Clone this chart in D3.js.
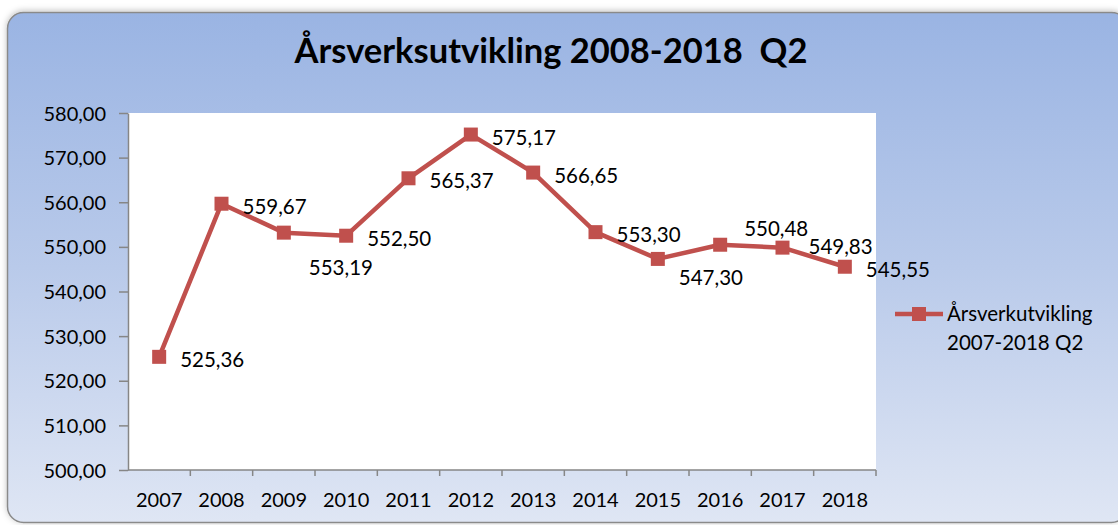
<!DOCTYPE html>
<html>
<head>
<meta charset="utf-8">
<script src="https://cdn.jsdelivr.net/npm/d3@7"></script>
<style>
  body { margin: 0; background: #fff; }
  svg { display: block; }
  text { font-family: Lato, "Open Sans", sans-serif; fill: #000; }
</style>
</head>
<body>
<script>
const years = ['2007', '2008', '2009', '2010', '2011', '2012', '2013', '2014', '2015', '2016', '2017', '2018'];
const values = [525.36, 559.67, 553.19, 552.50, 565.37, 575.17, 566.65, 553.30, 547.30, 550.48, 549.83, 545.55];
const yTicks = [500, 510, 520, 530, 540, 550, 560, 570, 580];
const chartTitle = 'Årsverksutvikling 2008-2018  Q2';
const legendLines = ['Årsverkutvikling', '2007-2018 Q2'];

// a few labels were nudged by hand in the original so they don't collide
const labelNudge = { '2009': [4, 32], '2015': [0, 16], '2016': [3, -19], '2017': [5, -4] };

const W = 1118, H = 525;
const margin = { top: 113, right: 242, bottom: 55, left: 128 };
const red = '#c0504d';

const nb = d3.formatLocale({ decimal: ',', thousands: ' ', grouping: [3], currency: ['', ' kr'] });
const fmt = nb.format('.2f');

const svg = d3.select('body').append('svg')
  .attr('width', W)
  .attr('height', H);

const defs = svg.append('defs');
const grad = defs.append('linearGradient')
  .attr('id', 'bg')
  .attr('x1', 0).attr('y1', 0).attr('x2', 0).attr('y2', 1);
grad.append('stop').attr('offset', '0%').attr('stop-color', '#9ab4e3');
grad.append('stop').attr('offset', '50%').attr('stop-color', '#b9caea');
grad.append('stop').attr('offset', '100%').attr('stop-color', '#dfe6f4');

const shadow = defs.append('filter').attr('id', 'shadow')
  .attr('x', '-5%').attr('y', '-5%').attr('width', '110%').attr('height', '110%');
shadow.append('feDropShadow')
  .attr('dx', 0).attr('dy', -1).attr('stdDeviation', 3)
  .attr('flood-color', '#000').attr('flood-opacity', 0.25);

// chart frame
svg.append('rect')
  .attr('x', 7.5).attr('y', 12.5)
  .attr('width', 1120).attr('height', 510)
  .attr('rx', 16)
  .attr('fill', 'url(#bg)')
  .attr('stroke', '#8a8a8a')
  .attr('stroke-width', 1.5)
  .attr('filter', 'url(#shadow)');

const x = d3.scaleBand()
  .domain(years)
  .range([margin.left, W - margin.right]);

const y = d3.scaleLinear()
  .domain([500, 580])
  .range([H - margin.bottom, margin.top]);

// plot area
svg.append('rect')
  .attr('x', margin.left)
  .attr('y', margin.top)
  .attr('width', x.range()[1] - margin.left)
  .attr('height', y(500) - margin.top)
  .attr('fill', '#fff');

// title
svg.append('text')
  .attr('x', 551)
  .attr('y', 63)
  .attr('text-anchor', 'middle')
  .style('font-size', '34.5px')
  .style('font-weight', 'bold')
  .style('white-space', 'pre')
  .text(chartTitle);

// y axis
const yAxis = svg.append('g')
  .attr('transform', `translate(${margin.left},0)`)
  .call(d3.axisLeft(y).tickValues(yTicks).tickFormat(fmt).tickSize(9).tickSizeOuter(0).tickPadding(13));

// x axis: ticks sit on the category boundaries
const bounds = years.map(d => x(d)).concat([x.range()[1]]);
const xAxis = svg.append('g')
  .attr('transform', `translate(0,${y(500)})`);
xAxis.append('line')
  .attr('x1', margin.left).attr('x2', x.range()[1]);
xAxis.selectAll('.tk')
  .data(bounds.slice(1))
  .enter().append('line')
  .attr('class', 'tk')
  .attr('x1', d => d).attr('x2', d => d)
  .attr('y1', 0).attr('y2', 6);
xAxis.selectAll('text')
  .data(years)
  .enter().append('text')
  .attr('x', d => x(d) + x.bandwidth() / 2)
  .attr('y', 37)
  .attr('text-anchor', 'middle')
  .text(d => d);

[yAxis, xAxis].forEach(g => {
  g.select('.domain').attr('stroke', '#868686').attr('stroke-width', 1.5);
  g.selectAll('line').attr('stroke', '#868686').attr('stroke-width', 1.5);
  g.selectAll('text').style('font-size', '20px').attr('fill', '#000');
});
yAxis.selectAll('text').attr('dy', '0.35em');

// series line
const cx = d => x(d) + x.bandwidth() / 2;
const line = d3.line()
  .x((d, i) => cx(years[i]))
  .y(d => y(d));

svg.append('path')
  .datum(values)
  .attr('d', line)
  .attr('fill', 'none')
  .attr('stroke', red)
  .attr('stroke-width', 4.5)
  .attr('stroke-linejoin', 'round');

svg.selectAll('.marker')
  .data(values)
  .enter().append('rect')
  .attr('class', 'marker')
  .attr('x', (d, i) => cx(years[i]) - 7)
  .attr('y', d => y(d) - 7)
  .attr('width', 14)
  .attr('height', 14)
  .attr('fill', red);

// data labels, to the right of each point
svg.selectAll('.lbl')
  .data(values)
  .enter().append('text')
  .attr('class', 'lbl')
  .attr('x', (d, i) => cx(years[i]) + 21 + (labelNudge[years[i]] || [0, 0])[0])
  .attr('y', (d, i) => y(d) + 3 + (labelNudge[years[i]] || [0, 0])[1])
  .attr('dy', '0.35em')
  .style('font-size', '20.5px')
  .text(d => fmt(d));

// legend
const lg = svg.append('g').attr('transform', 'translate(895,314)');
lg.append('line')
  .attr('x1', 0).attr('x2', 48)
  .attr('stroke', red).attr('stroke-width', 4.5);
lg.append('rect')
  .attr('x', 17).attr('y', -7)
  .attr('width', 14).attr('height', 14)
  .attr('fill', red);
lg.selectAll('text')
  .data(legendLines)
  .enter().append('text')
  .attr('x', 52)
  .attr('y', (d, i) => i * 29)
  .attr('dy', '0.35em')
  .style('font-size', '20.5px')
  .text(d => d);
</script>
</body>
</html>
